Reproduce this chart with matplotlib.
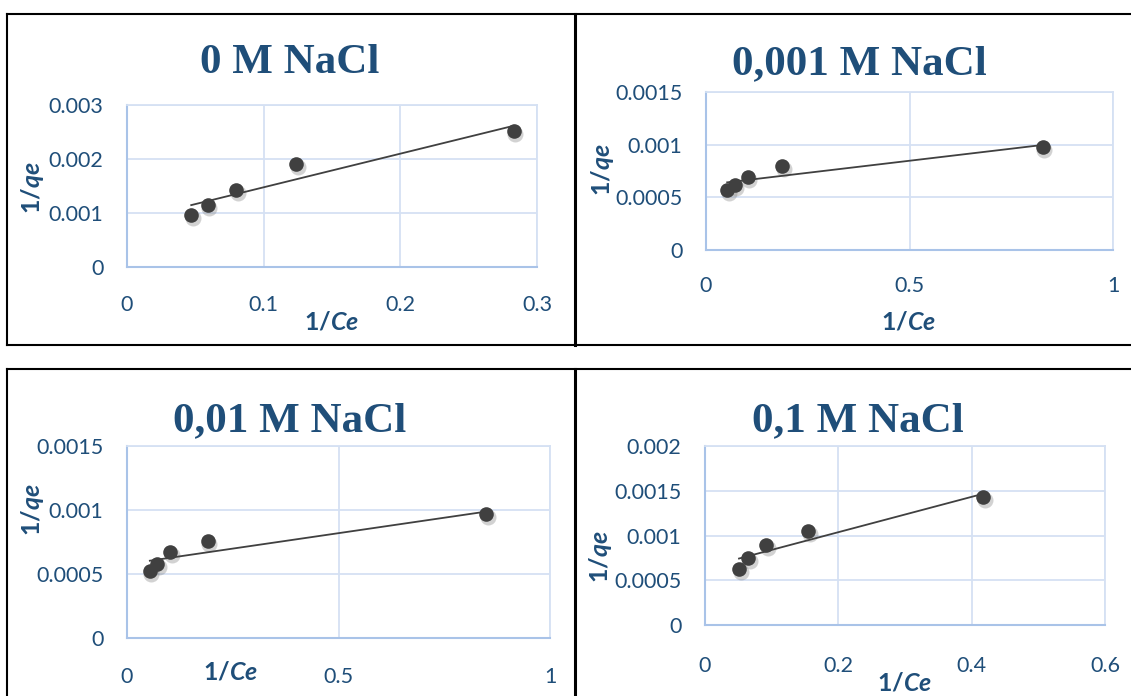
import numpy as np
import matplotlib
matplotlib.use('Agg')
import matplotlib.pyplot as plt
from matplotlib.lines import Line2D
from matplotlib import transforms

plt.rcParams['font.family'] = ['Lato', 'DejaVu Sans']
plt.rcParams['mathtext.fontset'] = 'custom'
plt.rcParams['mathtext.bf'] = 'Lato:bold'
plt.rcParams['mathtext.bfit'] = 'Lato:bold:italic'

W, H = 1131, 696
BLUE = '#1F4E79'
GRID = '#D5E1F3'
SPINE = '#A9C3E8'
MARK = '#404040'

# data: 1/Ce and 1/qe for each NaCl concentration
titles = ['0 M NaCl', '0,001 M NaCl', '0,01 M NaCl', '0,1 M NaCl']

x_0M = [0.047, 0.059, 0.080, 0.124, 0.283]
y_0M = [0.00097, 0.00115, 0.00142, 0.00190, 0.00252]

x_0001M = [0.052, 0.071, 0.103, 0.187, 0.828]
y_0001M = [0.00057, 0.00062, 0.00069, 0.00080, 0.00098]

x_001M = [0.054, 0.071, 0.102, 0.191, 0.849]
y_001M = [0.00052, 0.00058, 0.00067, 0.00076, 0.00097]

x_01M = [0.051, 0.065, 0.092, 0.155, 0.417]
y_01M = [0.00063, 0.00075, 0.00089, 0.00105, 0.00143]

xticks = [[0, 0.1, 0.2, 0.3], [0, 0.5, 1], [0, 0.5, 1], [0, 0.2, 0.4, 0.6]]
xticklabels = [['0', '0.1', '0.2', '0.3'], ['0', '0.5', '1'], ['0', '0.5', '1'],
               ['0', '0.2', '0.4', '0.6']]
yticks = [[0, 0.001, 0.002, 0.003], [0, 0.0005, 0.001, 0.0015],
          [0, 0.0005, 0.001, 0.0015], [0, 0.0005, 0.001, 0.0015, 0.002]]
yticklabels = [['0', '0.001', '0.002', '0.003'], ['0', '0.0005', '0.001', '0.0015'],
               ['0', '0.0005', '0.001', '0.0015'], ['0', '0.0005', '0.001', '0.0015', '0.002']]

xs = [x_0M, x_0001M, x_001M, x_01M]
ys = [y_0M, y_0001M, y_001M, y_01M]

# pixel layout: plot box (left, right, top, bottom), title, x label, y label
boxes = [(127, 537, 105, 267), (706, 1113, 92, 250), (127, 550, 446, 638), (705, 1105, 446, 625)]
title_pos = [(290, 73), (859, 74), (290, 431), (858, 431)]
xlab_pos = [(332, 322), (909, 322), (231, 672), (905, 683)]
ylab_pos = [(33, 188), (603, 170), (32, 510), (600, 557)]
xpad = [20, 19, 21, 22]

fig = plt.figure(figsize=(W / 100, H / 100), dpi=100)


def fx(px):
    return px / W


def fy(py):
    return 1 - py / H


for i in range(4):
    l, r, t, b = boxes[i]
    ax = fig.add_axes([fx(l), fy(b), (r - l) / W, (b - t) / H])
    ax.set_xlim(xticks[i][0], xticks[i][-1])
    ax.set_ylim(yticks[i][0], yticks[i][-1])
    ax.set_xticks(xticks[i])
    ax.set_xticklabels(xticklabels[i])
    ax.set_yticks(yticks[i])
    ax.set_yticklabels(yticklabels[i])
    ax.tick_params(length=0, labelsize=15.5, labelcolor=BLUE)
    ax.tick_params(axis='x', pad=xpad[i])
    ax.tick_params(axis='y', pad=17)
    ax.grid(True, color=GRID, lw=1.3)
    ax.set_axisbelow(True)
    for s in ['top', 'right']:
        ax.spines[s].set_color(GRID)
        ax.spines[s].set_linewidth(1.3)
    for s in ['left', 'bottom']:
        ax.spines[s].set_color(SPINE)
        ax.spines[s].set_linewidth(1.5)

    x = np.array(xs[i])
    y = np.array(ys[i])
    # shadow under the markers
    shadow = transforms.offset_copy(ax.transData, fig=fig, x=1.5, y=-3, units='dots')
    ax.plot(x, y, 'o', ms=11.5, color='#7f7f7f', alpha=0.35, mec='none', transform=shadow,
            clip_on=False)
    ax.plot(x, y, 'o', ms=10.5, color=MARK, mec='none', clip_on=False, zorder=3)

    # linear trendline
    k, c = np.polyfit(x, y, 1)
    xl = np.array([x.min(), x.max()])
    ax.plot(xl, k * xl + c, color=MARK, lw=1.3, zorder=2)

    fig.text(fx(title_pos[i][0]), fy(title_pos[i][1]), titles[i], ha='center', va='baseline',
             fontsize=31, fontweight='bold', color=BLUE, family='Liberation Serif')
    fig.text(fx(xlab_pos[i][0]), fy(xlab_pos[i][1]), r'$\mathbf{1/}\mathbfit{Ce}$',
             ha='center', va='center', fontsize=18, color=BLUE)
    fig.text(fx(ylab_pos[i][0]), fy(ylab_pos[i][1]), r'$\mathbf{1/}\mathbfit{qe}$',
             ha='center', va='center', fontsize=18, color=BLUE, rotation=90)

# black frames around the four charts
frame = [
    ([6.5, 1131], [14, 14]), ([6.5, 1131], [345, 345]),
    ([6.5, 1131], [369.5, 369.5]),
    ([6.5, 6.5], [14, 345]), ([6.5, 6.5], [369.5, 696]),
]
for fxs, fys in frame:
    fig.add_artist(Line2D([fx(v) for v in fxs], [fy(v) for v in fys], color='black', lw=1.5))
fig.add_artist(Line2D([fx(574.5)] * 2, [fy(14), fy(345)], color='black', lw=2.2))
fig.add_artist(Line2D([fx(574.5)] * 2, [fy(369.5), fy(696)], color='black', lw=2.2))

fig.savefig('out.png', dpi=100)
